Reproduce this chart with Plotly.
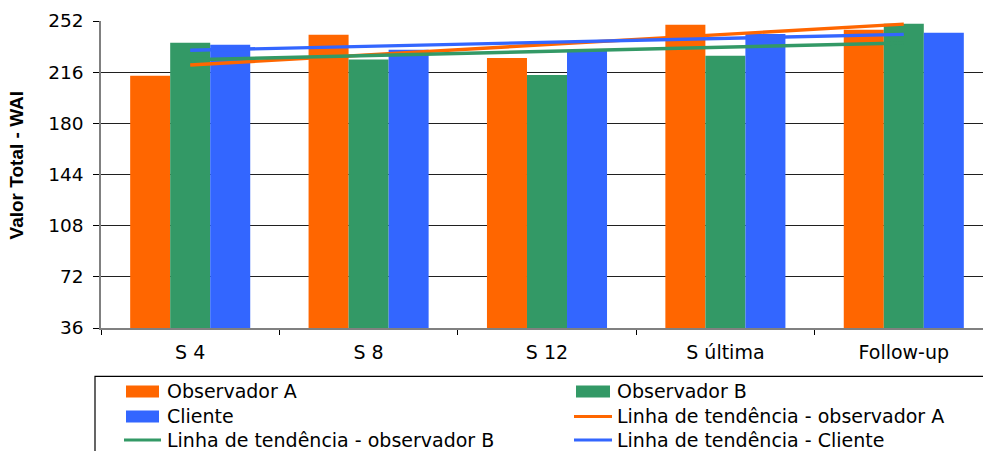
import numpy as np
import plotly.graph_objects as go

# Sessions on the category axis
sessions = ["S 4", "S 8", "S 12", "S última", "Follow-up"]

# WAI total score per session
observador_a = [213.5, 242.3, 226.0, 249.4, 245.9]
observador_b = [236.7, 224.9, 214.0, 227.5, 250.1]
cliente = [235.3, 231.8, 231.4, 242.8, 243.8]

series_names = ["Observador A", "Observador B", "Cliente"]
trend_names = [
    "Linha de tendência - observador A",
    "Linha de tendência - observador B",
    "Linha de tendência - Cliente",
]
colors = ["#FF6600", "#339966", "#3366FF"]

y_ticks = [36, 72, 108, 144, 180, 216, 252]

W, H = 983, 451
ML, MT, MB = 101, 21.3, 123.3
PW = W - ML
PH = H - MT - MB

fig = go.Figure()

all_series = [observador_a, observador_b, cliente]
for name, vals, col in zip(series_names, all_series, colors):
    fig.add_trace(go.Bar(x=sessions, y=[v - 36 for v in vals], base=36,
                         name=name, marker=dict(color=col, line=dict(width=0)),
                         showlegend=False))

# Linear trend lines (least squares over session index)
idx = np.arange(len(sessions))
for name, vals, col in zip(trend_names, all_series, colors):
    slope, intercept = np.polyfit(idx, vals, 1)
    fig.add_trace(go.Scatter(x=[sessions[0], sessions[-1]],
                             y=[intercept, intercept + slope * idx[-1]],
                             mode="lines", name=name,
                             line=dict(color=col, width=3.4),
                             showlegend=False))

def px_x(p):
    return (p - ML) / PW

def px_y(p):
    return (H - MB - p) / PH

# Legend box and entries
shapes = [dict(type="rect", xref="paper", yref="paper",
               x0=px_x(95), x1=px_x(995), y0=px_y(376), y1=px_y(470),
               line=dict(color="#000000", width=1.2), fillcolor="rgba(0,0,0,0)")]
annotations = []

entries = [
    ("bar", series_names[0], colors[0], 0, 0),
    ("bar", series_names[1], colors[1], 1, 0),
    ("bar", series_names[2], colors[2], 0, 1),
    ("line", trend_names[0], colors[0], 1, 1),
    ("line", trend_names[1], colors[1], 0, 2),
    ("line", trend_names[2], colors[2], 1, 2),
]
col_sw = [(126, 159), (576, 610)]
col_txt = [165, 615]
rows_y = [391, 416, 439.5]
for kind, label, col, c, r in entries:
    x0, x1 = col_sw[c]
    yc = rows_y[r]
    if kind == "bar":
        shapes.append(dict(type="rect", xref="paper", yref="paper",
                           x0=px_x(x0), x1=px_x(x1), y0=px_y(yc + 6), y1=px_y(yc - 6),
                           line=dict(width=0), fillcolor=col))
    else:
        shapes.append(dict(type="line", xref="paper", yref="paper",
                           x0=px_x(x0 - 2), x1=px_x(x1 + 2), y0=px_y(yc), y1=px_y(yc),
                           line=dict(color=col, width=3)))
    annotations.append(dict(text=label, xref="paper", yref="paper",
                            x=px_x(col_txt[c]), y=px_y(yc), xanchor="left", yanchor="middle",
                            showarrow=False,
                            font=dict(family="DejaVu Sans", size=19, color="#000000")))

# Axis title
annotations.append(dict(text="<b>Valor Total - WAI</b>", xref="paper", yref="paper",
                        x=px_x(16.5), y=px_y(165), xanchor="center", yanchor="middle",
                        textangle=-90, showarrow=False,
                        font=dict(family="Liberation Sans", size=19, color="#000000")))

fig.update_layout(
    width=W, height=H,
    margin=dict(l=ML, r=0, t=MT, b=MB, pad=0),
    paper_bgcolor="white", plot_bgcolor="white",
    barmode="group", bargap=0.327, bargroupgap=0,
    shapes=shapes, annotations=annotations,
    showlegend=False,
    xaxis=dict(type="category", range=[-0.5, 4.444], tickson="boundaries",
               ticks="outside", ticklen=5, tickcolor="#000000",
               showline=True, linecolor="#808080", linewidth=1.5,
               showgrid=False, ticklabelstandoff=6,
               tickfont=dict(family="DejaVu Sans", size=19, color="#000000")),
    yaxis=dict(range=[36, 252], tickvals=y_ticks, ticktext=[str(t) for t in y_ticks],
               ticks="outside", ticklen=6, tickcolor="#000000",
               showline=True, linecolor="#808080", linewidth=1.5,
               showgrid=True, gridcolor="#202020", gridwidth=1,
               zeroline=False, ticklabelstandoff=6,
               tickfont=dict(family="DejaVu Sans", size=18.5, color="#000000")),
)

fig.write_html("out.html")
